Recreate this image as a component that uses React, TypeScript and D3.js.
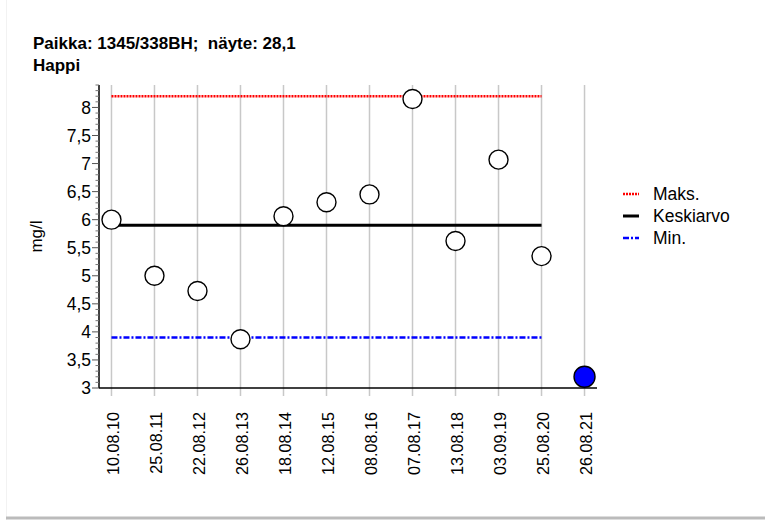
import React from "react";
import * as d3 from "d3";

const dates = ["10.08.10","25.08.11","22.08.12","26.08.13","18.08.14","12.08.15","08.08.16","07.08.17","13.08.18","03.09.19","25.08.20","26.08.21"];
const values = [6.0, 5.0, 4.73, 3.87, 6.06, 6.31, 6.45, 8.15, 5.62, 7.07, 5.35, 3.2];
const maxValue = 8.2;
const meanValue = 5.9;
const minValue = 3.9;
const yTicks = [3, 3.5, 4, 4.5, 5, 5.5, 6, 6.5, 7, 7.5, 8];
const title1 = "Paikka: 1345/338BH;  näyte: 28,1";
const title2 = "Happi";
const yLabel = "mg/l";
const legendItems = ["Maks.", "Keskiarvo", "Min."];

const W = 765, H = 520;
const left = 99, right = 597, top = 85, bottom = 388;
const font = "'Liberation Sans', Arial, sans-serif";

export default function App() {
  const x = d3.scalePoint<string>().domain(dates).range([left, right]).padding(0.29);
  const y = d3.scaleLinear().domain([3, 8.4]).range([bottom, top]);
  const minor = d3.range(30, 85).map((d) => d / 10).filter((d) => Math.abs(d * 2 - Math.round(d * 2)) > 1e-6);
  const fmt = (v: number) => String(v).replace(".", ",");
  const lastRef = dates[dates.length - 2];
  const lineStyles = [
    { v: maxValue, stroke: "#ff0000", w: 2.5, dash: "2 1" },
    { v: meanValue, stroke: "#000000", w: 3, dash: undefined },
    { v: minValue, stroke: "#0000ff", w: 2.5, dash: "6 2 2 2" },
  ];
  return (
    <svg width={W} height={H} style={{ position: "absolute", left: 0, top: 0, background: "#fff" }} fontFamily={font}>
      <rect x={0} y={0} width={W} height={H} fill="#fff" />
      <line x1={6.5} x2={6.5} y1={0} y2={H} stroke="#f2f2f2" strokeWidth={1} />
      <line x1={6} x2={W} y1={518} y2={518} stroke="#bbbbbb" strokeWidth={3} />
      <text x={33} y={49} fontSize={17} fontWeight="bold" style={{ whiteSpace: "pre" }} xmlSpace="preserve">{title1}</text>
      <text x={33} y={71} fontSize={17} fontWeight="bold">{title2}</text>
      {dates.map((d) => (
        <line key={"g" + d} x1={x(d)} x2={x(d)} y1={top} y2={bottom + 8} stroke="#c8c8c8" strokeWidth={1.5} />
      ))}
      <line x1={left} x2={left} y1={top} y2={bottom} stroke="#000" strokeWidth={1.5} />
      <line x1={left} x2={right} y1={bottom} y2={bottom} stroke="#000" strokeWidth={1.5} />
      {yTicks.map((t) => (
        <g key={"t" + t}>
          <line x1={left - 7} x2={left} y1={y(t)} y2={y(t)} stroke="#555" strokeWidth={1} />
          <text x={left - 8} y={y(t)} dy="0.36em" fontSize={17.5} textAnchor="end">{fmt(t)}</text>
        </g>
      ))}
      {minor.map((t) => (
        <line key={"m" + t} x1={left - 3.5} x2={left} y1={y(t)} y2={y(t)} stroke="#777" strokeWidth={1} />
      ))}
      <text transform={`translate(36,${(top + bottom) / 2}) rotate(-90)`} textAnchor="middle" dy="0.35em" fontSize={17}>{yLabel}</text>
      {dates.map((d) => (
        <text key={"l" + d} transform={`translate(${(x(d) as number) + 7.8},412) rotate(-90)`} textAnchor="end" fontSize={16.2}>{d}</text>
      ))}
      {lineStyles.map((s, i) => (
        <line key={"r" + i} x1={x(dates[0])} x2={x(lastRef)} y1={y(s.v)} y2={y(s.v)} stroke={s.stroke} strokeWidth={s.w} strokeDasharray={s.dash} />
      ))}
      {values.map((v, i) => {
        const last = i === values.length - 1;
        return (
          <circle key={"c" + i} cx={x(dates[i])} cy={y(v)} r={last ? 10.5 : 9.5} fill={last ? "#0000ff" : "#fff"} stroke="#000" strokeWidth={1.4} />
        );
      })}
      {legendItems.map((name, i) => {
        const s = lineStyles[i];
        const ly = 194 + i * 22;
        return (
          <g key={"lg" + name}>
            <line x1={623} x2={639} y1={ly} y2={ly} stroke={s.stroke} strokeWidth={s.w} strokeDasharray={s.dash} />
            <text x={653} y={ly} dy="0.36em" fontSize={17.5}>{name}</text>
          </g>
        );
      })}
    </svg>
  );
}
